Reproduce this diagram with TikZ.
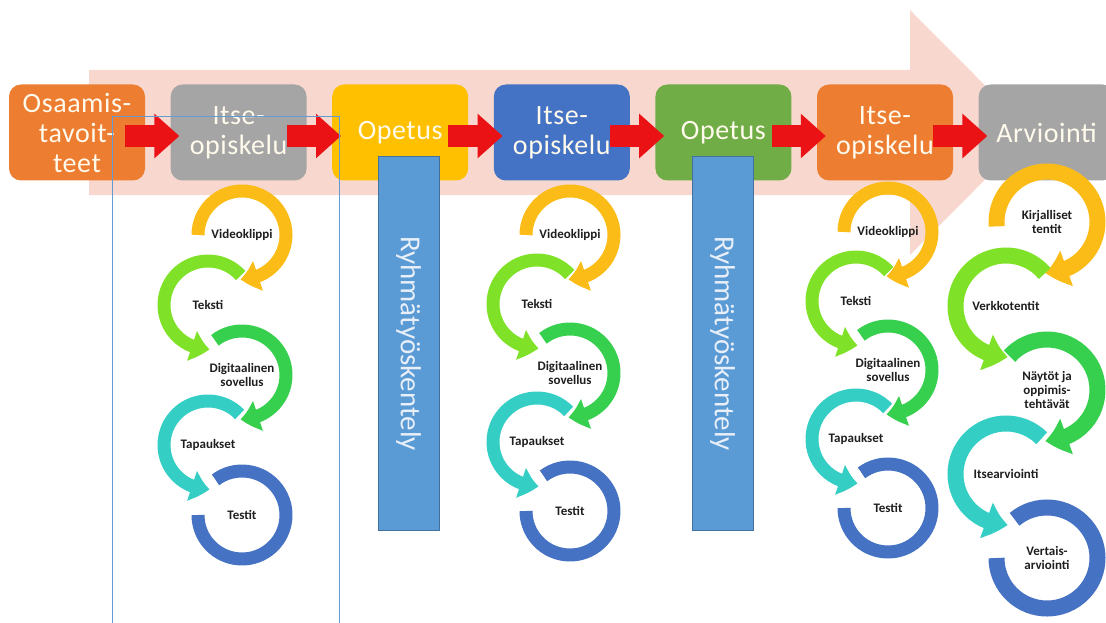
\documentclass[tikz,border=0pt]{standalone}
\usepackage{fontspec}
\setmainfont{Carlito}
\newfontfamily\boxfont[LetterSpace=2]{Carlito}
\usetikzlibrary{arrows.meta,bending}

\definecolor{arrowpink}{RGB}{248,216,206}
\definecolor{boxorange}{RGB}{237,125,49}
\definecolor{boxgray}{RGB}{165,165,165}
\definecolor{boxyellow}{RGB}{255,192,0}
\definecolor{boxblue}{RGB}{68,114,196}
\definecolor{boxgreen}{RGB}{112,173,71}
\definecolor{phasetext}{RGB}{255,250,236}
\definecolor{groupblue}{RGB}{91,155,213}
\definecolor{groupedge}{RGB}{65,113,156}
\definecolor{grouptext}{RGB}{232,239,248}
\definecolor{flowred}{RGB}{235,18,22}
\definecolor{ringyellow}{RGB}{251,188,24}
\definecolor{ringlime}{RGB}{128,226,40}
\definecolor{ringgreen}{RGB}{54,208,78}
\definecolor{ringteal}{RGB}{52,206,196}
\definecolor{ringblue}{RGB}{70,114,196}
\definecolor{itemtext}{RGB}{30,30,30}
\definecolor{frameblue}{RGB}{100,155,210}

\begin{document}
\begin{tikzpicture}[x=1pt,y=-1pt,
  phase/.style={rounded corners=12pt, minimum width=136pt, minimum height=96pt, inner sep=0pt,
    align=center, text=phasetext, font=\boxfont\fontsize{28}{30}\selectfont},
  flow/.style={flowred, line width=22pt, -{Triangle[width=43pt,length=25pt]}},
  group/.style={rotate=-90, fill=groupblue, draw=groupedge, minimum width=374pt, minimum height=61pt,
    text=grouptext, font=\fontsize{29}{32}\selectfont},
  item/.style={align=center, text=itemtext, font=\bfseries\fontsize{13}{14}\selectfont},
  ring/.style={line width=13pt},
  ringtip/.style={ring, -{Triangle[width=30pt,length=18pt,bend]}},
  bigring/.style={line width=16pt},
  bigringtip/.style={bigring, -{Triangle[width=36pt,length=22pt,bend]}}]
\useasboundingbox (0,0) rectangle (1106,623);

% big background arrow
\fill[arrowpink] (89,70) -- (910,70) -- (910,10) -- (1032,132.5) -- (910,255) -- (910,195) -- (89,195) -- cycle;

% phases
\node[phase, fill=boxorange] (goal) at (77,132.5) {Osaamis-\\tavoit-\\teet};
\node[phase, fill=boxgray] (self1) at (238.6,132.5) {Itse-\\opiskelu};
\node[phase, fill=boxyellow] (teach1) at (400.2,132.5) {Opetus};
\node[phase, fill=boxblue] (self2) at (561.8,132.5) {Itse-\\opiskelu};
\node[phase, fill=boxgreen] (teach2) at (723.4,132.5) {Opetus};
\node[phase, fill=boxorange] (self3) at (885,132.5) {Itse-\\opiskelu};
\node[phase, fill=boxgray] (assess) at (1046.6,132.5) {Arviointi};

\draw[flow] ([xshift=-20pt,yshift=-3.5pt]goal.east) -- ([xshift=9pt,yshift=-3.5pt]self1.west);
\draw[flow] ([xshift=-20pt,yshift=-3.5pt]self1.east) -- ([xshift=9pt,yshift=-3.5pt]teach1.west);
\draw[flow] ([xshift=-20pt,yshift=-3.5pt]teach1.east) -- ([xshift=9pt,yshift=-3.5pt]self2.west);
\draw[flow] ([xshift=-20pt,yshift=-3.5pt]self2.east) -- ([xshift=9pt,yshift=-3.5pt]teach2.west);
\draw[flow] ([xshift=-20pt,yshift=-3.5pt]teach2.east) -- ([xshift=9pt,yshift=-3.5pt]self3.west);
\draw[flow] ([xshift=-20pt,yshift=-3.5pt]self3.east) -- ([xshift=9pt,yshift=-3.5pt]assess.west);

% group work
\node[group] (group1) at (408.5,343.5) {Ryhmätyöskentely};
\node[group] (group2) at (722.5,343.5) {Ryhmätyöskentely};

% self study cycles
\foreach \c/\xr/\xl/\ya/\dy in {1/242/208/235/70, 2/570/537/235/69, 3/888/856/232/69} {
  \node[item] (vid\c) at (\xr,\ya) {Videoklippi};
  \node[item] (tek\c) at (\xl,\ya+\dy) {Teksti};
  \node[item] (dig\c) at (\xr,\ya+2*\dy) {Digitaalinen\\sovellus};
  \node[item] (tap\c) at (\xl,\ya+3*\dy) {Tapaukset};
  \node[item] (tes\c) at (\xr,\ya+4*\dy) {Testit};
  \draw[ringtip, ringyellow] (vid\c.center) ++(180:44pt) arc[start angle=180, end angle=-92, radius=44pt];
  \draw[ringtip, ringlime] (tek\c.center) ++(42:44pt) arc[start angle=42, end angle=272, radius=44pt];
  \draw[ringtip, ringgreen] (dig\c.center) ++(128:44pt) arc[start angle=128, end angle=-92, radius=44pt];
  \draw[ringtip, ringteal] (tap\c.center) ++(44:44pt) arc[start angle=44, end angle=272, radius=44pt];
  \draw[ring, ringblue] (tes\c.center) ++(127:44pt) arc[start angle=127, end angle=-180, radius=44pt];
}

% assessment cycle
\node[item] (written) at (1047,222) {Kirjalliset\\tentit};
\node[item] (online) at (1006,306) {Verkkotentit};
\node[item] (demo) at (1047,390) {Näytöt ja\\oppimis-\\tehtävät};
\node[item] (selfass) at (1006,474) {Itsearviointi};
\node[item] (peer) at (1047,558) {Vertais-\\arviointi};
\draw[bigringtip, ringyellow] (written.center) ++(185:50.5pt) arc[start angle=185, end angle=-92, radius=50.5pt];
\draw[bigringtip, ringlime] (online.center) ++(40:50.5pt) arc[start angle=40, end angle=272, radius=50.5pt];
\draw[bigringtip, ringgreen] (demo.center) ++(138:50.5pt) arc[start angle=138, end angle=-92, radius=50.5pt];
\draw[bigringtip, ringteal] (selfass.center) ++(45:50.5pt) arc[start angle=45, end angle=272, radius=50.5pt];
\draw[bigring, ringblue] (peer.center) ++(130:50.5pt) arc[start angle=130, end angle=-180, radius=50.5pt];

% frame round the first self study column
\draw[frameblue, line width=0.8pt] (112,630) -- (112,116) -- (339,116) -- (339,630);
\end{tikzpicture}
\end{document}
